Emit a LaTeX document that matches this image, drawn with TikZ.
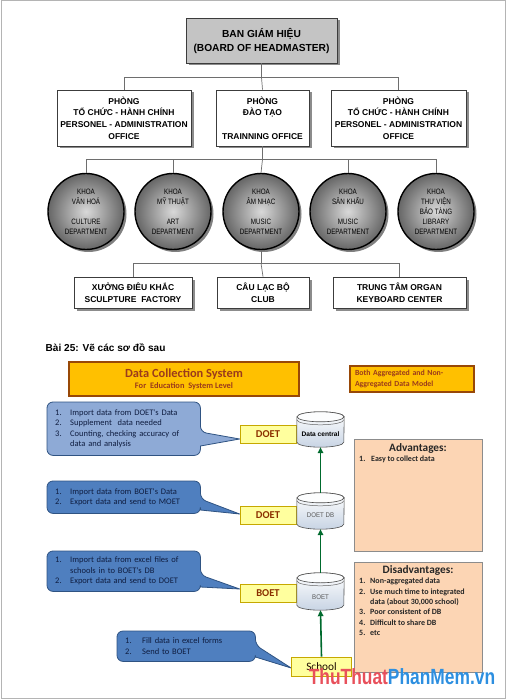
\documentclass[tikz,border=0pt]{standalone}
\usepackage{fontspec}
\usepackage{graphicx}
\setmainfont{Liberation Sans}
\newfontfamily\calfont{Carlito}
\usetikzlibrary{shadows,calc,arrows.meta,backgrounds}
\definecolor{framegray}{HTML}{B4B4B4}
\definecolor{boxline}{HTML}{3C3C3C}
\definecolor{boardgray}{HTML}{C4C4C4}
\definecolor{conn}{HTML}{6E6E6E}
\definecolor{gold}{HTML}{FFC000}
\definecolor{goldedge}{HTML}{984807}
\definecolor{titlered}{HTML}{9B3B1C}
\definecolor{callA}{HTML}{8EAAD6}
\definecolor{callB}{HTML}{4F7FBF}
\definecolor{calledge}{HTML}{2F5382}
\definecolor{navy}{HTML}{0F1D40}
\definecolor{labfill}{HTML}{FFFF9E}
\definecolor{labedge}{HTML}{C6A800}
\definecolor{labtext}{HTML}{8B3000}
\definecolor{peach}{HTML}{FCD5B4}
\definecolor{peachedge}{HTML}{8C8C8C}
\definecolor{darkgreen}{HTML}{006A2D}
\definecolor{cylbot}{HTML}{C8D4E4}
\definecolor{wmred}{HTML}{E8505B}
\definecolor{wmblue}{HTML}{2D8FE0}
\newcommand\cz[1]{\scalebox{.8}[1]{#1}}
\newcommand\cylshape[1]{%
  \path[top color=white, bottom color=cylbot, draw=black!70, line width=.6pt]
    ($(#1.north west)+(0,5)$) -- ($(#1.south west)+(0,-5)$) arc(180:0:23.5 and 5)
    -- ($(#1.north east)+(0,5)$) arc(0:-180:23.5 and 5) -- cycle;
  \draw[fill=white!95!cylbot, draw=black!70, line width=.6pt] ($(#1.north)+(0,5)$) ellipse (23.5 and 5);
  \draw[draw=black!60, line width=.5pt] ($(#1.north west)+(0,8)$) arc(180:0:23.5 and 5);
}
\begin{document}
\begin{tikzpicture}[x=1pt,y=-1pt,
  offbox/.style={draw=boxline, fill=white, line width=.8pt,
     drop shadow={shadow xshift=2.5pt, shadow yshift=-2.5pt, fill=black!45, opacity=1},
     font=\fontsize{8.5}{11.7}\selectfont\bfseries, align=center, inner sep=0pt},
  dept/.style={circle, draw=black, line width=1.4pt, minimum size=76, inner sep=0pt,
     inner color=white!85!black, outer color=black!60,
     drop shadow={shadow xshift=2.5pt, shadow yshift=-2.5pt, fill=black!50, opacity=1},
     font=\fontsize{7.8}{10}\selectfont, text=black, align=center},
  tree/.style={draw=conn, line width=.7pt},
  goldbox/.style={fill=gold, draw=goldedge, line width=1.1pt, inner sep=0pt, text=titlered},
  callnode/.style={anchor=north west, inner xsep=8pt, inner ysep=0pt, align=left,
     font=\calfont\fontsize{8.5}{10.5}\selectfont, text=navy},
  callout/.style={draw=calledge, line width=.8pt},
  lab/.style={fill=labfill, draw=labedge, line width=.7pt, minimum width=56, minimum height=18,
     inner sep=0pt, font=\calfont\fontsize{10.5}{12}\selectfont\bfseries, text=labtext},
  cyl/.style={minimum width=47, inner sep=0pt},
  cyltext/.style={font=\fontsize{6.8}{8}\selectfont, text=black!65},
  uparrow/.style={draw=darkgreen, line width=1.6pt, -{Triangle[length=6pt,width=5.5pt]}},
  peachbox/.style={fill=peach, draw=peachedge, line width=.7pt, minimum width=128, minimum height=112, inner sep=0pt},
  listtext/.style={anchor=north west, align=left, inner sep=0pt,
     font=\calfont\fontsize{8}{10.3}\selectfont\bfseries, text=black!85},
  ptitle/.style={font=\calfont\fontsize{11.3}{13}\selectfont\bfseries, text=black!85}
]
\useasboundingbox (0,0) rectangle (507,700);
\draw[framegray, line width=1pt] (1,1) rectangle (505.5,698.5);

% ---------- top org chart ----------
\node[offbox, fill=boardgray, minimum width=151, minimum height=45,
  font=\fontsize{10.2}{14}\selectfont\bfseries] (board) at (261.5,40.5)
  {BAN GIÁM HIỆU\\(BOARD OF HEADMASTER)};
\node[offbox, minimum width=134, minimum height=56] (p1) at (124,118)
  {PHÒNG\\TỔ CHỨC - HÀNH CHÍNH\\PERSONEL - ADMINISTRATION\\OFFICE};
\node[offbox, minimum width=93, minimum height=56] (p2) at (262.5,118)
  {PHÒNG\\ĐÀO TẠO\\\mbox{}\\TRAINNING OFFICE};
\node[offbox, minimum width=135, minimum height=56] (p3) at (398.5,118)
  {PHÒNG\\TỔ CHỨC - HÀNH CHÍNH\\PERSONEL - ADMINISTRATION\\OFFICE};

\draw[tree] (board.south) -- ++(0,14) coordinate (j1) -| (p1.north);
\draw[tree] (j1) -| (p3.north);
\draw[tree] (j1) -- (p2.north);

\node[dept] (d1) at (86,211.5) {\cz{KHOA}\\\cz{VĂN HOÁ}\\\mbox{}\\\cz{CULTURE}\\\cz{DEPARTMENT}};
\node[dept] (d2) at (173,211.5) {\cz{KHOA}\\\cz{MỸ THUẬT}\\\mbox{}\\\cz{ART}\\\cz{DEPARTMENT}};
\node[dept] (d3) at (261,211.5) {\cz{KHOA}\\\cz{ÂM NHẠC}\\\mbox{}\\\cz{MUSIC}\\\cz{DEPARTMENT}};
\node[dept] (d4) at (348,211.5) {\cz{KHOA}\\\cz{SÂN KHẤU}\\\mbox{}\\\cz{MUSIC}\\\cz{DEPARTMENT}};
\node[dept] (d5) at (436,211.5) {\cz{KHOA}\\\cz{THƯ VIỆN}\\\cz{BẢO TÀNG}\\\cz{LIBRARY}\\\cz{DEPARTMENT}};

\draw[tree] (p2.south) -- ++(0,13) coordinate (j2);
\draw[tree] (j2) -| (d1.north);
\draw[tree] (j2) -| (d2.north);
\draw[tree] (j2) -| (d4.north);
\draw[tree] (j2) -| (d5.north);
\draw[tree] (j2) -- (d3.north);

\node[offbox, minimum width=118, minimum height=31] (s1) at (133,292.5)
  {XƯỞNG ĐIÊU KHẮC\\SCULPTURE\ \ FACTORY};
\node[offbox, minimum width=92, minimum height=31] (s2) at (263,292.5)
  {CÂU LẠC BỘ\\CLUB};
\node[offbox, minimum width=133, minimum height=31] (s3) at (399.5,292.5)
  {TRUNG TÂM ORGAN\\KEYBOARD CENTER};

\draw[tree] (d3.south) -- ++(0,13) coordinate (j3);
\draw[tree] (j3) -| (s1.north);
\draw[tree] (j3) -| (s3.north);
\draw[tree] (j3) -- (s2.north);

% ---------- lower part ----------
\node[anchor=west, inner sep=0pt, font=\fontsize{10.1}{12}\selectfont\bfseries] (bai) at (45.5,348)
  {Bài 25: Vẽ các sơ đồ sau};

\node[goldbox, minimum width=230, minimum height=34, align=center, font=\calfont\bfseries] (dcs) at (184,379)
  {{\fontsize{12.4}{14}\selectfont Data Collection System}\\[-1pt]{\fontsize{8.4}{10}\selectfont For\ \ Education\ \ System Level}};

\node[goldbox, minimum width=124, minimum height=26, inner xsep=5pt, align=left, text width=114,
  font=\calfont\fontsize{7.8}{11.5}\selectfont\bfseries] (agg) at (412,379)
  {Both Aggregated and Non-\\Aggregated Data Model};

% labels
\node[lab] (doet1) at (268,434) {DOET};
\node[lab] (doet2) at (268,515) {DOET};
\node[lab] (boet) at (268,593) {BOET};
\node[lab, minimum width=60, minimum height=19, font=\calfont\fontsize{11.3}{12}\selectfont, text=black!80!labtext] (school) at (321.5,666.5) {School};

% cylinders
\node[cyl, minimum height=35] (cyl1) at (320.5,429.5) {};
\node[cyl, minimum height=36] (cyl2) at (320.5,511) {};
\node[cyl, minimum height=37] (cyl3) at (320.5,591.5) {};
\cylshape{cyl1}
\cylshape{cyl2}
\cylshape{cyl3}
\node[cyltext, font=\fontsize{6.6}{8}\selectfont\bfseries, text=black] (cyl1t) at (320.5,434.5) {Data central};
\node[cyltext] (cyl2t) at (320.5,515) {\scalebox{.9}[1]{DOET DB}};
\node[cyltext] (cyl3t) at (320.5,597) {\scalebox{.9}[1]{BOET}};

\draw[uparrow] (cyl2.north) -- (cyl1.south);
\draw[uparrow] (cyl3.north) -- (cyl2.south);
\draw[uparrow] (school.north) -- (cyl3.south);

% callouts
\node[callnode, minimum width=153, minimum height=53, text width=137] (c1) at (47,402)
  {\makebox[15pt][l]{1.}Import data from DOET's Data\\
   \makebox[15pt][l]{2.}Supplement\ \ data needed\\
   \makebox[15pt][l]{3.}Counting, checking accuracy of\\
   \hspace*{15pt}data and analysis};
\node[callnode, minimum width=153, minimum height=32, text width=137] (c2) at (47,481)
  {\makebox[15pt][l]{1.}Import data from BOET's Data\\
   \makebox[15pt][l]{2.}Export data and send to MOET};
\node[callnode, minimum width=153, minimum height=40, text width=137] (c3) at (47,551)
  {\makebox[15pt][l]{1.}Import data from excel files of\\
   \hspace*{15pt}schools in to BOET's DB\\
   \makebox[15pt][l]{2.}Export data and send to DOET};
\node[callnode, minimum width=138, minimum height=30, text width=122] (c4) at (117,631)
  {\makebox[17pt][l]{1.}Fill data in excel forms\\
   \makebox[17pt][l]{2.}Send to BOET};

\begin{pgfonlayer}{background}
\path[callout, fill=callA] [rounded corners=6pt] (c1.north west) -- (c1.north east) -- ($(c1.north east)+(0,30)$)
  [sharp corners] -- ($(doet1.west)+(0,5)$) -- ($(c1.north east)+(0,44)$) [rounded corners=6pt]
  -- (c1.south east) -- (c1.south west) -- cycle;
\path[callout, fill=callB] [rounded corners=6pt] (c2.north west) -- (c2.north east) -- ($(c2.north east)+(0,18)$)
  [sharp corners] -- ($(doet2.west)+(0,-1)$) -- ($(c2.north east)+(0,29)$) [rounded corners=6pt]
  -- (c2.south east) -- (c2.south west) -- cycle;
\path[callout, fill=callB] [rounded corners=6pt] (c3.north west) -- (c3.north east) -- ($(c3.north east)+(0,24)$)
  [sharp corners] -- ($(boet.west)+(0,-4)$) -- ($(c3.north east)+(0,36)$) [rounded corners=6pt]
  -- (c3.south east) -- (c3.south west) -- cycle;
\path[callout, fill=callB] [rounded corners=6pt] (c4.north west) -- (c4.north east) -- ($(c4.north east)+(0,14)$)
  [sharp corners] -- ($(school.west)+(0,1.5)$) -- ($(c4.north east)+(0,26)$) [rounded corners=6pt]
  -- (c4.south east) -- (c4.south west) -- cycle;
\end{pgfonlayer}

% advantages / disadvantages
\node[peachbox] (adv) at (418,495) {};
\node[ptitle] (advt) at (418,448) {Advantages:};
\node[listtext] (advl) at (359,456) {\makebox[12pt][l]{1.}Easy to collect data};

\node[peachbox, minimum height=110] (dis) at (418,617) {};
\node[ptitle] (dist) at (418,570.5) {Disadvantages:};
\node[listtext] (disl) at (359,578)
  {\makebox[11pt][l]{1.}Non-aggregated data\\
   \makebox[11pt][l]{2.}Use much time to integrated\\
   \hspace*{11pt}data (about 30,000 school)\\
   \makebox[11pt][l]{3.}Poor consistent of DB\\
   \makebox[11pt][l]{4.}Difficult to share DB\\
   \makebox[11pt][l]{5.}etc};

% watermark
\node[inner sep=0pt, font=\fontsize{22}{24}\selectfont\bfseries] (wm) at (402,677)
  {\scalebox{.79}[1]{\textcolor{wmred}{ThuThuat}\textcolor{wmblue}{PhanMem.vn}}};
\end{tikzpicture}
\end{document}
